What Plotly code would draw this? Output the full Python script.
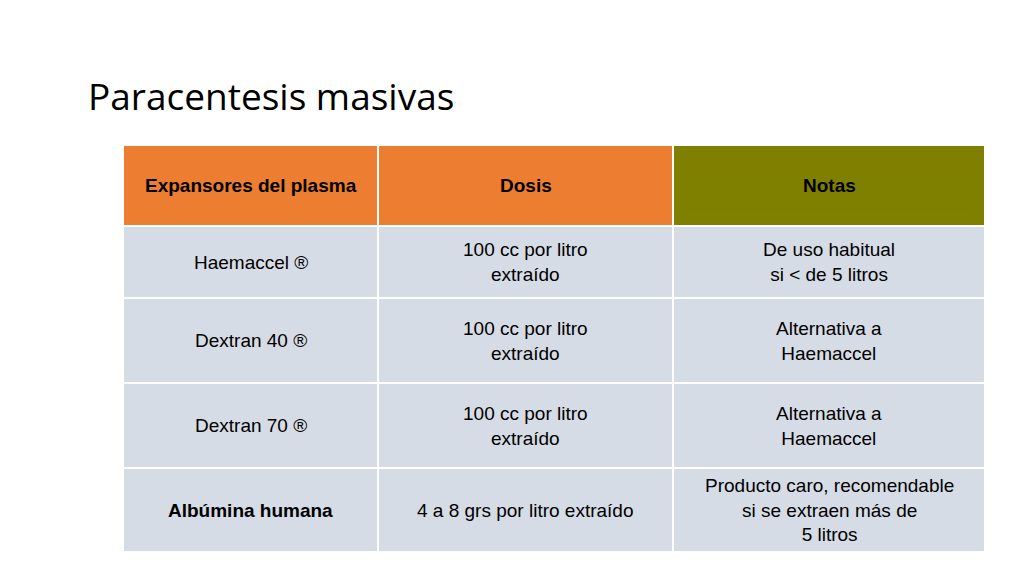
import plotly.graph_objects as go

headers = ["<b>Expansores del plasma</b>", "<b>Dosis</b>", "<b>Notas</b>"]
col1 = ["Haemaccel ®", "Dextran 40 ®", "Dextran 70 ®", "<b>Albúmina humana</b>"]
col2 = ["100 cc por litro<br>extraído", "100 cc por litro<br>extraído",
        "100 cc por litro<br>extraído", "4 a 8 grs por litro extraído"]
col3 = ["De uso habitual<br>si < de 5 litros", "Alternativa a<br>Haemaccel",
        "Alternativa a<br>Haemaccel",
        "Producto caro, recomendable<br>si se extraen más de<br>5 litros"]
header_colors = ["#ED7D31", "#ED7D31", "#808000"]
body_color = "#D6DCE5"

col_edges = [115, 370, 665, 977]
row_edges = [137, 218, 290, 375, 460, 544]

fig = go.Figure()
rows = [headers] + [list(r) for r in zip(col1, col2, col3)]
shapes, annots = [], []
font = dict(family="Liberation Sans, Arial", size=19, color="black")
for i, row in enumerate(rows):
    y0, y1 = row_edges[i], row_edges[i + 1]
    for j, txt in enumerate(row):
        x0, x1 = col_edges[j], col_edges[j + 1]
        fill = header_colors[j] if i == 0 else body_color
        shapes.append(dict(type="rect", x0=x0, x1=x1, y0=y0, y1=y1, xref="x", yref="y",
                           fillcolor=fill, line=dict(color="white", width=2), layer="below"))
        annots.append(dict(text=txt, x=(x0 + x1) / 2, y=(y0 + y1) / 2, xref="x", yref="y",
                           showarrow=False, align="center", font=font))
annots.append(dict(text="Paracentesis masivas", x=78, y=87, xref="x", yref="y",
                   xanchor="left", yanchor="middle", showarrow=False,
                   font=dict(family="Open Sans", size=37, color="black")))
fig.update_layout(
    width=1024, height=576, margin=dict(l=0, r=0, t=0, b=0),
    paper_bgcolor="white", plot_bgcolor="white",
    xaxis=dict(range=[0, 1024], visible=False, fixedrange=True),
    yaxis=dict(range=[576, 0], visible=False, fixedrange=True),
    shapes=shapes, annotations=annots, showlegend=False,
)
fig.write_html("out.html")
